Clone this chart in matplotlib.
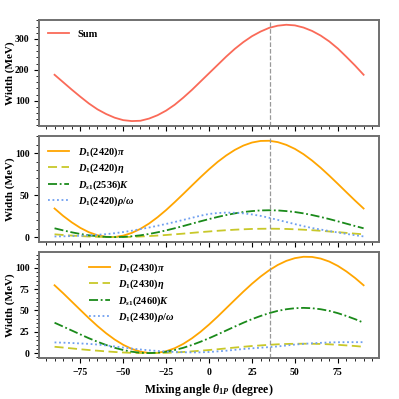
import matplotlib
matplotlib.use("Agg")
import matplotlib.pyplot as plt
from matplotlib.ticker import AutoMinorLocator, MultipleLocator

plt.rcParams['font.family'] = 'Liberation Serif'
plt.rcParams['font.weight'] = 'bold'
plt.rcParams['mathtext.fontset'] = 'custom'
plt.rcParams['mathtext.rm'] = 'Liberation Serif:bold'
plt.rcParams['mathtext.it'] = 'Liberation Serif:italic:bold'
plt.rcParams['mathtext.bf'] = 'Liberation Serif:bold'

# mixing angle (degree)
theta = [-90, -85, -80, -75, -70, -65, -60, -55, -50, -45, -40, -35, -30,
         -25, -20, -15, -10, -5, 0, 5, 10, 15, 20, 25, 30, 35, 40, 45,
         50, 55, 60, 65, 70, 75, 80, 85, 90]
theta_ideal = 35.3

# top panel: total width
w_sum = [184, 160, 136, 113, 91, 72, 57, 45, 37, 34, 35, 42, 53,
         68, 87, 110, 135, 162, 189, 216, 243, 268, 290, 309, 324, 336, 343, 346,
         344, 337, 326, 311, 292, 269, 242, 214, 184]

# middle panel: D1(2420) channels
w2420_pi = [34.1, 25.3, 17.6, 11.0, 5.8, 2.2, 0.3, 0.1, 1.7, 5.0, 9.8, 16.1, 23.7,
            32.3, 41.7, 51.5, 61.5, 71.4, 80.9, 89.7, 97.4, 104.0, 109.2, 112.8, 114.7, 114.9, 113.3, 110.0,
            105.2, 98.9, 91.3, 82.7, 73.3, 63.5, 53.5, 43.6, 34.1]
w2420_eta = [3.3, 2.5, 1.8, 1.2, 0.7, 0.3, 0.1, 0.0, 0.1, 0.3, 0.7, 1.2, 1.8,
             2.5, 3.3, 4.1, 5.0, 5.9, 6.7, 7.5, 8.2, 8.8, 9.3, 9.7, 9.9, 10.0, 9.9, 9.7,
             9.3, 8.8, 8.2, 7.5, 6.7, 5.9, 5.0, 4.1, 3.3]
w2536_K = [10.5, 8.0, 5.7, 3.7, 2.1, 1.0, 0.2, 0.0, 0.2, 1.0, 2.1, 3.7, 5.7,
           8.0, 10.5, 13.2, 16.0, 18.8, 21.5, 24.0, 26.3, 28.3, 29.9, 31.0, 31.8, 32.0, 31.8, 31.0,
           29.9, 28.3, 26.3, 24.0, 21.5, 18.8, 16.0, 13.2, 10.5]
w2420_rho = [0.7, 0.9, 1.2, 1.6, 2.0, 2.7, 3.5, 4.6, 6.0, 7.6, 9.5, 11.4, 13.5,
             15.7, 18.0, 20.5, 23.0, 25.5, 27.6, 28.7, 29.2, 29.0, 28.3, 27.0, 25.3, 23.0, 20.5, 18.0,
             15.5, 13.0, 10.8, 9.0, 7.2, 5.5, 3.8, 2.2, 0.8]

# bottom panel: D1(2430) channels
w2430_pi = [79.5, 70.2, 60.4, 50.6, 40.9, 31.7, 23.3, 15.9, 9.7, 4.9, 1.7, 0.1, 0.3,
            2.2, 5.7, 10.8, 17.3, 24.9, 33.5, 42.8, 52.6, 62.4, 72.1, 81.3, 89.7, 97.1, 103.3, 108.1,
            111.3, 112.9, 112.7, 110.8, 107.3, 102.2, 95.7, 88.1, 79.5]
w2430_eta = [7.4, 6.5, 5.5, 4.5, 3.6, 2.8, 2.0, 1.3, 0.7, 0.3, 0.1, 0.0, 0.1,
             0.3, 0.7, 1.3, 2.0, 2.8, 3.6, 4.5, 5.5, 6.5, 7.4, 8.3, 9.0, 9.7, 10.3, 10.7,
             10.9, 11.0, 10.9, 10.7, 10.3, 9.7, 9.0, 8.3, 7.4]
w2460_K = [35.6, 31.1, 26.5, 21.9, 17.4, 13.3, 9.5, 6.2, 3.6, 1.6, 0.4, 0.0, 0.4,
           1.6, 3.6, 6.2, 9.5, 13.3, 17.4, 21.9, 26.5, 31.1, 35.6, 39.8, 43.5, 46.8, 49.5, 51.4,
           52.6, 53.0, 52.6, 51.4, 49.5, 46.8, 43.5, 39.8, 35.6]
w2430_rho = [12.5, 12.2, 11.8, 11.3, 10.8, 10.0, 9.0, 7.8, 6.5, 5.3, 4.2, 3.3, 2.5,
             1.8, 1.3, 1.0, 0.8, 0.9, 1.3, 2.0, 2.8, 3.8, 4.8, 5.6, 6.3, 7.0, 7.8, 8.9,
             10.0, 10.8, 11.5, 12.0, 12.5, 12.7, 12.8, 12.8, 12.8]

c_sum = '#fa6a58'
c_pi = '#ffa500'
c_eta = '#c8c82a'
c_K = '#1a8a1a'
c_rho = '#6f9ff0'

fig, axes = plt.subplots(3, 1, figsize=(3.99, 3.99), dpi=100, sharex=True)
fig.subplots_adjust(left=0.098, right=0.95, top=0.95, bottom=0.103, hspace=0.095)
ax1, ax2, ax3 = axes

ax1.plot(theta, w_sum, color=c_sum, lw=1.3, label='Sum')

ax2.plot(theta, w2420_pi, color=c_pi, lw=1.3, label=r'$D_1(2420)\pi$')
ax2.plot(theta, w2420_eta, color=c_eta, lw=1.3, ls=(0, (5, 2.5)), label=r'$D_1(2420)\eta$')
ax2.plot(theta, w2536_K, color=c_K, lw=1.3, ls=(0, (5, 1.5, 1, 1.5)), label=r'$D_{s1}(2536)K$')
ax2.plot(theta, w2420_rho, color=c_rho, lw=1.3, ls=(0, (1, 1.5)), label=r'$D_1(2420)\rho/\omega$')

ax3.plot(theta, w2430_pi, color=c_pi, lw=1.3, label=r'$D_1(2430)\pi$')
ax3.plot(theta, w2430_eta, color=c_eta, lw=1.3, ls=(0, (5, 2.5)), label=r'$D_1(2430)\eta$')
ax3.plot(theta, w2460_K, color=c_K, lw=1.3, ls=(0, (5, 1.5, 1, 1.5)), label=r'$D_{s1}(2460)K$')
ax3.plot(theta, w2430_rho, color=c_rho, lw=1.3, ls=(0, (1, 1.5)), label=r'$D_1(2430)\rho/\omega$')

for ax in axes:
    ax.axvline(theta_ideal, color='#999999', ls='--', lw=0.9)
    ax.set_ylabel('Width (MeV)', fontsize=8, fontweight='bold')
    ax.yaxis.set_label_coords(-0.072, 0.5)
    ax.xaxis.set_major_locator(MultipleLocator(25))
    ax.xaxis.set_minor_locator(AutoMinorLocator())
    ax.yaxis.set_minor_locator(AutoMinorLocator())
    ax.tick_params(which='major', labelsize=7, length=3.5, width=0.8)
    ax.tick_params(which='minor', length=2, width=0.6)
    for s in ax.spines.values():
        s.set_color('#707070')
        s.set_linewidth(1.4)

ax1.set_yticks([100, 200, 300])
ax2.set_yticks([0, 50, 100])
ax3.set_yticks([0, 25, 50, 75, 100])

leg_kw = dict(frameon=False, fontsize=7.5, labelspacing=0.28)
ax1.legend(loc='upper left', **leg_kw)
ax2.legend(loc='upper left', **leg_kw)
ax3.legend(loc='upper left', bbox_to_anchor=(0.12, 1.0), **leg_kw)

ax3.set_xlabel(r'Mixing angle $\theta_{\mathrm{1}P}$ (degree)', fontsize=8.5, fontweight='bold')

fig.savefig('out.png', dpi=100)
plt.close(fig)
